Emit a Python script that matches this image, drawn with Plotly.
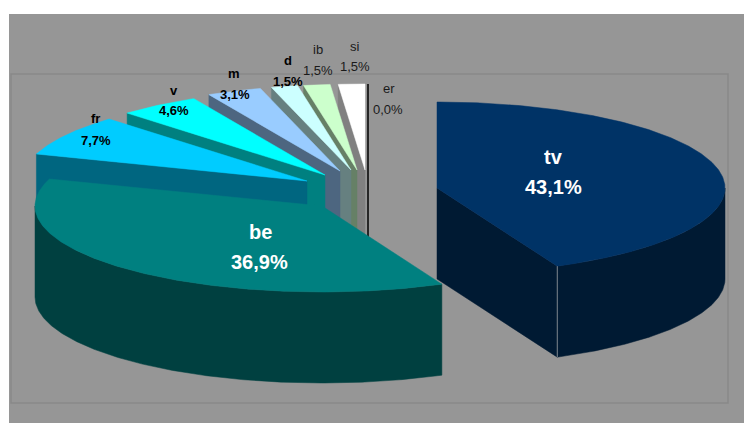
import numpy as np
import plotly.graph_objects as go

# ---- data ----
categories = ["tv", "be", "fr", "v", "m", "d", "ib", "si", "er"]
shares = [43.1, 36.9, 7.7, 4.6, 3.1, 1.5, 1.5, 1.5, 0.0]

# ---- styles ----
top_colors = ["#003366", "#008080", "#00CCFF", "#00FFFF", "#99CCFF", "#CCFFFF", "#CCFFCC", "#FFFFFF", "#000000"]
side_colors = ["#001A33", "#004040", "#006680", "#008080", "#4D6680", "#668080", "#668066", "#808080", "#000000"]

# ---- layout of the exploded slices (pixels) ----
slice_cx = [437, 322, 307, 325, 340, 351, 357, 365, 368]
slice_cy = [188, 206, 181, 175, 171, 170, 170, 170, 170]
slice_rx = [288, 287, 285, 285, 285, 285, 285, 285, 285]
RY, DEPTH = 86, 91
W, H = 744, 423

name_xy = [(553, 157), (260, 232), (95, 118), (174, 90), (234, 73), (288, 60), (318, 49), (355, 46), (389, 88)]
pct_xy = [(553, 187), (259, 262), (96, 140), (174, 110), (235, 94), (288, 81), (318, 70), (355, 66), (388, 109)]
label_size = [20, 20, 13, 13, 13, 13, 13, 13, 13]
label_bold = [True, True, True, True, True, True, False, False, False]
label_color = ["#FFFFFF", "#FFFFFF", "#000000", "#000000", "#000000", "#000000", "#1A1A1A", "#1A1A1A", "#1A1A1A"]

total = sum(shares)
angles = np.concatenate([[0], np.cumsum(shares) / total * 360.0])


def arc(i, a0, a1, dz=0.0):
    t = np.radians(np.linspace(a0, a1, max(int(abs(a1 - a0)) * 2, 2)))
    return slice_cx[i] + slice_rx[i] * np.sin(t), slice_cy[i] - RY * np.cos(t) + dz


def poly(xs, ys, color):
    return go.Scatter(
        x=list(xs), y=list(ys), mode="lines", fill="toself", fillcolor=color,
        line=dict(color=color, width=0.5), hoverinfo="skip", showlegend=False,
    )


def top(i):
    x, y = arc(i, angles[i], angles[i + 1])
    return poly([slice_cx[i], *x, slice_cx[i]], [slice_cy[i], *y, slice_cy[i]], top_colors[i])


def radial_wall(i, ang):
    x, y = arc(i, ang, ang)
    cx, cy = slice_cx[i], slice_cy[i]
    return poly([cx, x[0], x[0], cx, cx], [cy, y[0], y[0] + DEPTH, cy + DEPTH, cy], side_colors[i])


def outer_wall(i, a0, a1):
    x, y = arc(i, a0, a1)
    return poly([*x, *x[::-1], x[0]], [*y, *(y[::-1] + DEPTH), y[0]], side_colors[i])


fig = go.Figure()

# back slices, far to near: si .. fr
for i in [7, 6, 5, 4, 3, 2]:
    fig.add_trace(radial_wall(i, angles[i]))
    fig.add_trace(top(i))

# tv: radial wall, outer wall, top
fig.add_trace(radial_wall(0, angles[1]))
fig.add_trace(outer_wall(0, 90, angles[1]))
fig.add_trace(top(0))
cx_edge, cy_edge = arc(0, angles[1], angles[1])
fig.add_trace(go.Scatter(
    x=[cx_edge[0], cx_edge[0]], y=[cy_edge[0], cy_edge[0] + DEPTH], mode="lines",
    line=dict(color="#9A9FA5", width=0.8), hoverinfo="skip", showlegend=False,
))

# er: zero-width slice shows as a thin line
er_x, er_y = arc(8, angles[8], angles[9])
fig.add_trace(go.Scatter(
    x=[slice_cx[8], slice_cx[8]], y=[er_y[0], slice_cy[8] + DEPTH], mode="lines",
    line=dict(color="#000000", width=1.5), hoverinfo="skip", showlegend=False,
))

# be in front of everything it touches
fig.add_trace(outer_wall(1, angles[1], 270))
fig.add_trace(top(1))

annotations = []
for i, c in enumerate(categories):
    pct = f"{shares[i]:.1f}%".replace(".", ",")
    for txt, (x, y) in ((c, name_xy[i]), (pct, pct_xy[i])):
        annotations.append(dict(
            x=x, y=y, xref="x", yref="y", xanchor="center", yanchor="middle", showarrow=False,
            text=f"<b>{txt}</b>" if label_bold[i] else txt,
            font=dict(family="Liberation Sans", size=label_size[i], color=label_color[i]),
        ))

fig.update_layout(
    width=W, height=H, autosize=False,
    margin=dict(l=0, r=0, t=0, b=0, pad=0),
    paper_bgcolor="#FFFFFF", plot_bgcolor="#FFFFFF",
    xaxis=dict(range=[0, W], visible=False, fixedrange=True),
    yaxis=dict(range=[H, 0], visible=False, fixedrange=True),
    showlegend=False,
    annotations=annotations,
    shapes=[
        dict(type="rect", xref="x", yref="y", x0=9, x1=W, y0=14, y1=H, layer="below",
             fillcolor="#969696", line=dict(width=0)),
        dict(type="rect", xref="x", yref="y", x0=11, x1=728, y0=74, y1=403, layer="below",
             fillcolor="rgba(0,0,0,0)", line=dict(color="#898989", width=1.5)),
    ],
)

fig.write_html("out.html", config={"displayModeBar": False},
               post_script="document.body.style.margin='0';document.body.style.overflow='hidden';")
